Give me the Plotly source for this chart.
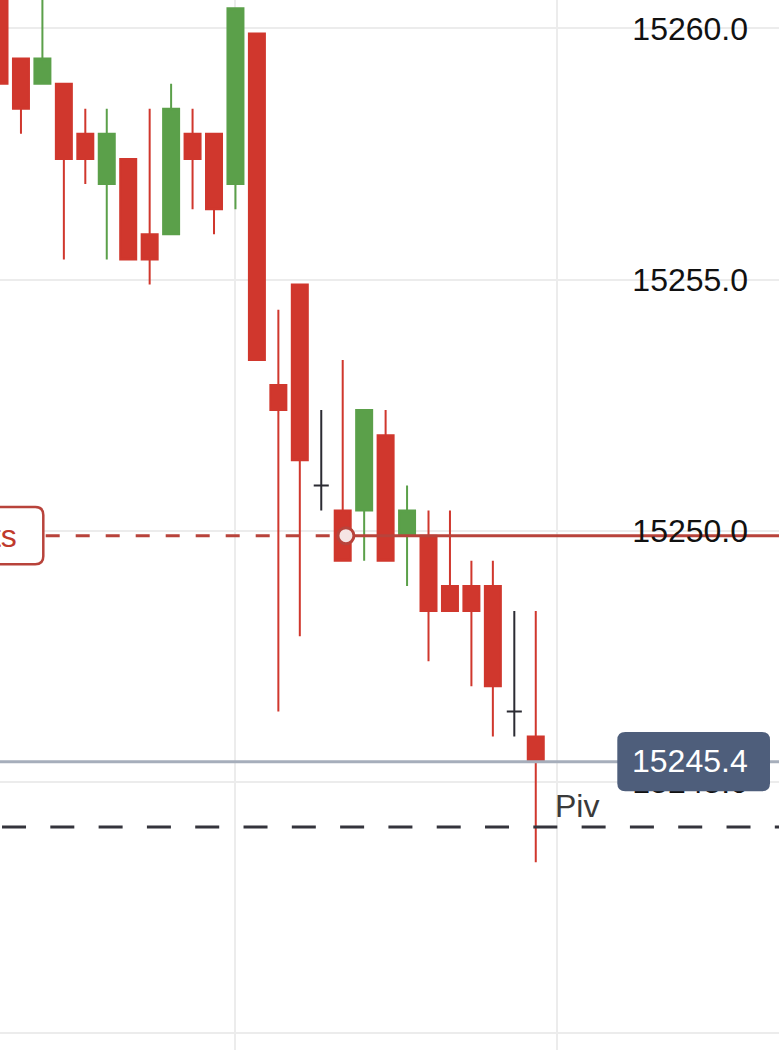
import plotly.graph_objects as go

# ---------------- data ----------------
idx = list(range(26))
opens  = [15261.4, 15259.4, 15258.9, 15258.9, 15257.9, 15256.9, 15257.4, 15255.9, 15255.9, 15257.9,
          15257.9, 15256.9, 15259.9, 15252.9, 15254.9, 15250.9, 15250.4, 15250.4, 15251.9, 15249.9,
          15249.9, 15248.9, 15248.9, 15248.9, 15246.4, 15245.9]
highs  = [15261.9, 15259.4, 15261.4, 15258.9, 15258.4, 15258.4, 15257.4, 15258.4, 15258.9, 15258.4,
          15257.9, 15260.4, 15259.9, 15254.4, 15254.9, 15252.4, 15253.4, 15252.4, 15252.4, 15250.9,
          15250.4, 15250.4, 15249.4, 15249.4, 15248.4, 15248.4]
lows   = [15258.9, 15257.9, 15258.9, 15255.4, 15256.9, 15255.4, 15255.4, 15254.9, 15255.9, 15256.4,
          15255.9, 15256.4, 15253.4, 15246.4, 15247.9, 15250.4, 15249.4, 15249.4, 15249.4, 15248.9,
          15247.4, 15248.4, 15246.9, 15245.9, 15245.9, 15243.4]
closes = [15258.9, 15258.4, 15259.4, 15257.4, 15257.4, 15257.9, 15255.4, 15255.4, 15258.4, 15257.4,
          15256.4, 15260.4, 15253.4, 15252.4, 15251.4, 15250.9, 15249.4, 15252.4, 15249.4, 15250.4,
          15248.4, 15248.4, 15248.4, 15246.9, 15246.4, 15245.4]

grid_x = [11, 26]
y_ticks = [15240, 15245, 15250, 15255, 15260]
y_tick_labels = ["15240.0", "15245.0", "15250.0", "15255.0", "15260.0"]

order_level = 15249.9
order_time = 16.15
order_label = "Alerts"
pivot_level = 15244.1
pivot_label = "Piv"
last_price = closes[-1]

# ---------------- styles ----------------
RED = "#d0372d"
GREEN = "#5ba04a"
DOJI = "#2b2b33"
LINE_RED = "#b8433b"
FONT = "Liberation Sans, Arial, Helvetica, sans-serif"
X_RANGE = [0.023, 36.34]
Y_RANGE = [15239.66, 15260.565]

is_doji = [o == c for o, c in zip(opens, closes)]
def pick(arr, keep):
    return [v for v, d in zip(arr, is_doji) if d != keep]

fig = go.Figure()

# last price line (behind candles)
fig.add_trace(go.Scatter(x=[-2, 50], y=[last_price, last_price], mode="lines",
                         line=dict(color="#a6aebb", width=3), hoverinfo="skip"))

fig.add_trace(go.Candlestick(
    x=pick(idx, True), open=pick(opens, True), high=pick(highs, True),
    low=pick(lows, True), close=pick(closes, True),
    increasing=dict(line=dict(color=GREEN, width=2), fillcolor=GREEN),
    decreasing=dict(line=dict(color=RED, width=2), fillcolor=RED),
    whiskerwidth=0))

fig.add_trace(go.Ohlc(
    x=pick(idx, False), open=pick(opens, False), high=pick(highs, False),
    low=pick(lows, False), close=pick(closes, False),
    increasing=dict(line=dict(color=DOJI, width=2)),
    decreasing=dict(line=dict(color=DOJI, width=2)),
    tickwidth=0.039))

# order line: dashed before the marker, solid after
fig.add_trace(go.Scatter(x=[0.755, order_time], y=[order_level, order_level], mode="lines",
                         line=dict(color=LINE_RED, width=3, dash="14px,16px"), hoverinfo="skip"))
fig.add_trace(go.Scatter(x=[order_time, 50], y=[order_level, order_level], mode="lines",
                         line=dict(color=LINE_RED, width=3), hoverinfo="skip"))

# pivot line
fig.add_trace(go.Scatter(x=[0.117, 50], y=[pivot_level, pivot_level], mode="lines",
                         line=dict(color="#34343c", width=3, dash="24px,24.3px"), hoverinfo="skip"))

# order marker
fig.add_trace(go.Scatter(x=[order_time], y=[order_level], mode="markers",
                         marker=dict(size=16, color="#f5e4e4", line=dict(color=LINE_RED, width=3)),
                         hoverinfo="skip"))

W, H = 779, 1050
ppu = H / (Y_RANGE[1] - Y_RANGE[0])

def rounded_rect(x0px, x1px, yc, half_px, r=8):
    x0, x1 = x0px / W, x1px / W
    rx = r / W
    ry = r / ppu
    y0 = yc - half_px / ppu
    y1 = yc + half_px / ppu
    return (f"M {x0+rx},{y0} L {x1-rx},{y0} Q {x1},{y0} {x1},{y0+ry} "
            f"L {x1},{y1-ry} Q {x1},{y1} {x1-rx},{y1} L {x0+rx},{y1} "
            f"Q {x0},{y1} {x0},{y1-ry} L {x0},{y0+ry} Q {x0},{y0} {x0+rx},{y0} Z")

shapes = [
    dict(type="path", xref="paper", yref="y", layer="above",
         path=rounded_rect(617.3, 770, last_price, 29.6),
         fillcolor="#4e5e7b", line=dict(width=0)),
    dict(type="path", xref="paper", yref="y", layer="above",
         path=rounded_rect(-60, 43.3, order_level, 28.6),
         fillcolor="white", line=dict(color=LINE_RED, width=2.5)),
]

annotations = [
    dict(x=749.5 / W, y=last_price, xref="paper", yref="y", xanchor="right", yanchor="middle",
         text=f"{last_price:.1f}", showarrow=False, yshift=1,
         font=dict(family=FONT, size=32, color="white")),
    dict(x=19 / W, y=order_level, xref="paper", yref="y", xanchor="right", yanchor="middle",
         text=order_label, showarrow=False,
         font=dict(family=FONT, size=32, color="#c0392b")),
    dict(x=(553.3 + 0.5) / 21.45, y=pivot_level, xref="x", yref="y", xanchor="left", yanchor="bottom",
         text=pivot_label, showarrow=False, yshift=1,
         font=dict(family=FONT, size=32, color="#3a3a3a")),
]

fig.update_layout(
    width=W, height=H, margin=dict(l=0, r=0, t=0, b=0, pad=0),
    paper_bgcolor="white", plot_bgcolor="white",
    showlegend=False, boxgap=0.254, boxgroupgap=0,
    shapes=shapes, annotations=annotations,
    xaxis=dict(range=X_RANGE, tickmode="array", tickvals=grid_x, showticklabels=False,
               ticks="", showgrid=True, gridcolor="#ececec", gridwidth=2,
               zeroline=False, showline=False, rangeslider=dict(visible=False)),
    yaxis=dict(range=Y_RANGE, side="right", tickmode="array", tickvals=y_ticks,
               ticktext=y_tick_labels, ticklabelposition="inside", ticks="",
               ticklabelstandoff=28, showgrid=True, gridcolor="#ececec", gridwidth=2,
               zeroline=False, showline=False,
               tickfont=dict(family=FONT, size=32, color="#111111")),
)

fig.write_html("out.html", config={"displayModeBar": False},
               post_script="document.body.style.margin='0';document.body.style.overflow='hidden';")
